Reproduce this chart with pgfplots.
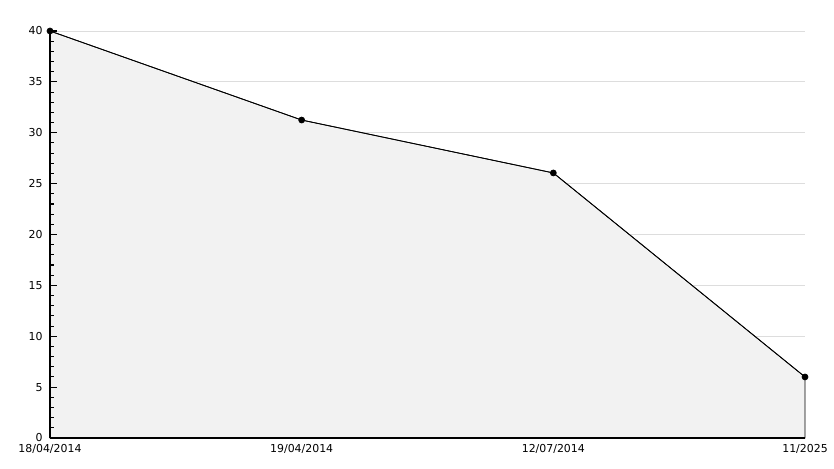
\documentclass[border=0pt]{standalone}
\usepackage{fontspec}
\setmainfont{DejaVu Sans}
\usepackage{pgfplots}
\pgfplotsset{compat=1.18}
\definecolor{fillgray}{HTML}{F2F2F2}
\definecolor{gridgray}{HTML}{DDDDDD}
\pgfplotsset{layers/mylayers/.define layer set={axis background,axis grid,pre main,main,axis ticks,axis lines,axis tick labels,axis descriptions,axis foreground}{/pgfplots/layers/standard}}
\begin{document}
\begin{tikzpicture}
\begin{axis}[
  set layers=mylayers,
  at={(0,0)}, anchor=south west,
  scale only axis, width=566.25pt, height=305.25pt,
  xmin=0, xmax=3, ymin=0, ymax=40,
  axis x line=bottom, axis y line=left,
  axis line style={-, black, line width=0.8pt},
  xtick={0,1,2,3},
  xticklabels={18/04/2014,19/04/2014,12/07/2014,11/2025},
  x tick style={draw=none},
  ytick={0,5,...,40},
  minor y tick num=4,
  tick align=inside,
  major tick length=5pt, minor tick length=3pt,
  y tick style={black, line width=0.8pt},
  ymajorgrids, major grid style={gridgray, line width=0.6pt},
  tick label style={font=\fontsize{8.2}{9}\selectfont},
  yticklabel style={xshift=-2pt},
  xticklabel style={yshift=-1.5pt},
  /pgf/number format/assume math mode=true,
  clip=false,
]
\addplot[fill=fillgray, draw=black, line width=0.6pt] coordinates {(0,40) (1,31.25) (2,26.05) (3,6)} \closedcycle;
\addplot[black, line width=0.6pt, mark=*, mark size=2.2pt] coordinates {(0,40) (1,31.25) (2,26.05) (3,6)};
\end{axis}
\path[use as bounding box] (-37.5pt,-22.5pt) rectangle (588pt,328.5pt);
\end{tikzpicture}
\end{document}
